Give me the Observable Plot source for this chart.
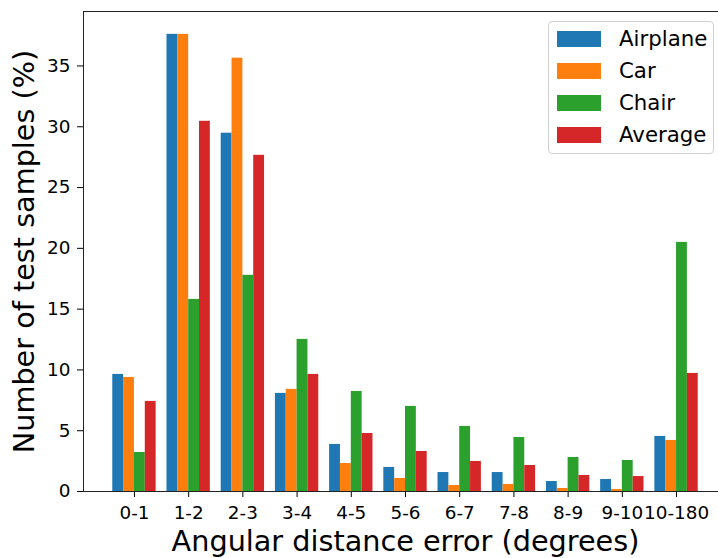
<!DOCTYPE html>
<html>
<head>
<meta charset="utf-8">
<script src="https://cdn.jsdelivr.net/npm/d3@7"></script>
<script src="https://cdn.jsdelivr.net/npm/@observablehq/plot@0.6"></script>
<style>
  html, body { margin: 0; padding: 0; background: white; overflow: hidden; }
  #chart { position: relative; width: 718px; height: 558px; overflow: hidden; font-family: "DejaVu Sans", sans-serif; }
  .legend { position: absolute; left: 548px; top: 21px; width: 166px; height: 133px; box-sizing: border-box;
            border: 1px solid #d0d0d0; border-radius: 4px; background: rgba(255,255,255,0.8); }
  .legend .row { position: absolute; left: 8px; height: 16px; }
  .legend .sw { position: absolute; left: 0; top: 0; width: 44px; height: 16px; }
  .legend .lab { position: absolute; left: 62px; top: -6px; font-size: 21.3px; line-height: 28px; white-space: nowrap; color: #000; }
</style>
</head>
<body>
<div id="chart"></div>
<script>
// Error-bin labels along the x axis
const categories = ["0-1", "1-2", "2-3", "3-4", "4-5", "5-6", "6-7", "7-8", "8-9", "9-10", "10-180"];

// Share of test samples (%) in each bin, per object class
const airplane = [9.63, 37.6, 29.47, 8.07, 3.87, 1.98, 1.56, 1.56, 0.82, 0.99, 4.53];
const car      = [9.38, 37.6, 35.64, 8.40, 2.30, 1.07, 0.49, 0.58, 0.25, 0.16, 4.20];
const chair    = [3.21, 15.80, 17.78, 12.51, 8.23, 7.00, 5.35, 4.44, 2.80, 2.55, 20.49];
const average  = [7.41, 30.45, 27.65, 9.63, 4.77, 3.29, 2.47, 2.14, 1.32, 1.23, 9.71];

const seriesNames = ["Airplane", "Car", "Chair", "Average"];
const seriesValues = [airplane, car, chair, average];
const yTicks = [0, 5, 10, 15, 20, 25, 30, 35];
const colors = ["#1f77b4", "#ff7f0e", "#2ca02c", "#d62728"];

// One row per bar; each group of four bars is centred on its bin index
const barWidth = 0.2;
const rows = [];
seriesNames.forEach((name, j) => {
  seriesValues[j].forEach((v, i) => {
    const x1 = i - 0.4 + j * barWidth;
    rows.push({series: name, bin: i, x1, x2: x1 + barWidth, value: v});
  });
});

const maxV = d3.max(rows, d => d.value);
const n = categories.length;
const span = (n - 1) + 0.8;
const pad = 0.05 * span;

const plot = Plot.plot({
  width: 730,
  height: 558,
  marginLeft: 83,
  marginRight: 3,
  marginTop: 11,
  marginBottom: 67,
  style: {maxWidth: "none", fontFamily: "DejaVu Sans, sans-serif", background: "white", color: "black"},
  x: {type: "linear", domain: [-0.4 - pad, n - 1 + 0.4 + pad]},
  y: {domain: [0, maxV * 1.05]},
  color: {domain: seriesNames, range: colors},
  marks: [
    Plot.rect(rows, {x1: "x1", x2: "x2", y1: 0, y2: "value", fill: "series"}),
    Plot.axisY({ticks: yTicks, tickSize: 6, tickPadding: 7, fontSize: 18.4, label: null}),
    Plot.axisX({ticks: d3.range(n), tickFormat: i => categories[i], tickSize: 6, tickPadding: 8, fontSize: 18.4, label: null}),
    Plot.frame({stroke: "#222", strokeWidth: 1}),
    Plot.text(["Angular distance error (degrees)"], {frameAnchor: "bottom", lineAnchor: "middle", textAnchor: "middle", dy: 50, fontSize: 28.7, fill: "black"}),
    Plot.text(["Number of test samples (%)"], {frameAnchor: "left", lineAnchor: "middle", textAnchor: "middle", rotate: -90, dx: -58.5, fontSize: 28.7, fill: "black"})
  ]
});

const chart = document.getElementById("chart");
chart.appendChild(plot);

// Legend box in the upper-right corner of the axes
const legend = document.createElement("div");
legend.className = "legend";
seriesNames.forEach((name, j) => {
  const row = document.createElement("div");
  row.className = "row";
  row.style.top = (9 + j * 32) + "px";
  const sw = document.createElement("div");
  sw.className = "sw";
  sw.style.background = colors[j];
  const lab = document.createElement("div");
  lab.className = "lab";
  lab.textContent = name;
  row.appendChild(sw);
  row.appendChild(lab);
  legend.appendChild(row);
});
chart.appendChild(legend);
</script>
</body>
</html>
